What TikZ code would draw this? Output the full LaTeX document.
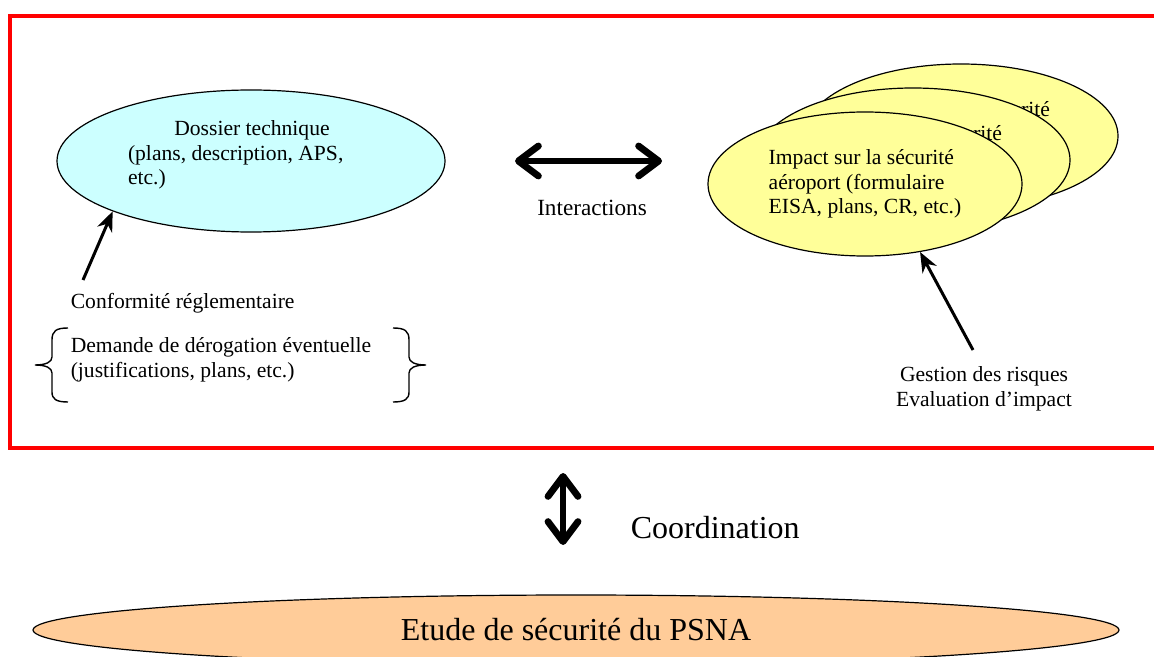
\documentclass[tikz,border=0pt]{standalone}
\usepackage{fontspec}
\setmainfont{Liberation Serif}
\usetikzlibrary{shapes.geometric}
\usetikzlibrary{positioning}
\usetikzlibrary{arrows.meta}

\definecolor{dossierblue}{RGB}{204,255,255}
\definecolor{impactyellow}{RGB}{255,255,153}
\definecolor{psnaorange}{RGB}{255,204,153}
\definecolor{framered}{RGB}{255,0,0}

\begin{document}
\begin{tikzpicture}[x=0.5pt,y=-0.5pt,>={Stealth[length=10pt,width=8pt]},
	thick,
	bubble/.style={ellipse,draw,line width=0.6pt},
	small text/.style={font=\fontsize{10.8}{12.3}\selectfont,inner sep=0pt},
	big text/.style={font=\fontsize{16}{19}\selectfont,inner sep=0pt},
	fat arrow/.style={line width=3.4pt,{Straight Barb[length=10pt,width=15pt,round]}-{Straight Barb[length=10pt,width=15pt,round]}},
	thin arrow/.style={->,line width=1.5pt},
	brace line/.style={line width=0.7pt}]
	
	\useasboundingbox (0,0) rectangle (1154,657);
	\clip (0,0) rectangle (1154,657);
	
	% cadre rouge
	\draw[framered,line width=1.6pt] (10,16) rectangle (1170,448);
	
	% dossier technique
	\node[bubble,fill=dossierblue,minimum width=194pt,minimum height=71pt] (dossier) at (251,161) {};
	\node[small text] (dossiertxt) at (252,155) {\parbox{124pt}{\centering Dossier technique\par\raggedright (plans, description, APS,\\etc.)}};
	
	% pile des impacts
	\node[bubble,fill=impactyellow,minimum width=157pt,minimum height=72pt,small text,align=left] (impact3) at (961,136) {Impact sur la sécurité\\aéroport (formulaire\\EISA, plans, CR, etc.)};
	\node[bubble,fill=impactyellow,minimum width=157pt,minimum height=72pt,small text,align=left] (impact2) at (913,160) {Impact sur la sécurité\\aéroport (formulaire\\EISA, plans, CR, etc.)};
	\node[bubble,fill=impactyellow,minimum width=157pt,minimum height=72pt,small text,align=left] (impact1) at (865,184) {Impact sur la sécurité\\aéroport (formulaire\\EISA, plans, CR, etc.)};
	
	% PSNA
	\node[bubble,fill=psnaorange,minimum width=543pt,minimum height=35pt,big text] (psna) at (576,630) {Etude de sécurité du PSNA};
	
	% textes
	\node[small text,anchor=west] (conformite) at (70,303) {Conformité réglementaire};
	\node[small text,anchor=west,align=left] (derogation) at (70,360) {Demande de dérogation éventuelle\\(justifications, plans, etc.)};
	\node[small text,align=center] (gestion) at (984,389) {Gestion des risques\\Evaluation d’impact};
	\node[font=\fontsize{11.6}{14}\selectfont,inner sep=0pt] (interactions) at (592,208) {Interactions};
	\node[big text,anchor=west] (coordination) at (630,528) {Coordination};
	
	\coordinate (interL) at (515,161);
	\coordinate (interR) at (662,161);
	\coordinate (coordT) at (563,473);
	\coordinate (coordB) at (563,545);
	\coordinate (conftail) at (83,280);
	\coordinate (gesttail) at (973,350);
	
	% fleches
	\draw[fat arrow] (interL) -- (interR);
	\draw[fat arrow] (coordT) -- (coordB);
	\draw[thin arrow] (conftail) -- (dossier.200);
	\draw[thin arrow] (gesttail) -- (impact1.309);
	
	% accolades
	\draw[brace line] (68,328) .. controls (56,328) and (52,331) .. (52,340) -- (52,357)
	.. controls (52,362) and (46,365) .. (35,365) .. controls (46,365) and (52,368) .. (52,373)
	-- (52,392) .. controls (52,399) and (56,402) .. (68,402);
	\draw[brace line] (393,328) .. controls (405,328) and (409,331) .. (409,340) -- (409,357)
	.. controls (409,362) and (415,365) .. (426,365) .. controls (415,365) and (409,368) .. (409,373)
	-- (409,392) .. controls (409,399) and (405,402) .. (393,402);
\end{tikzpicture}
\end{document}
